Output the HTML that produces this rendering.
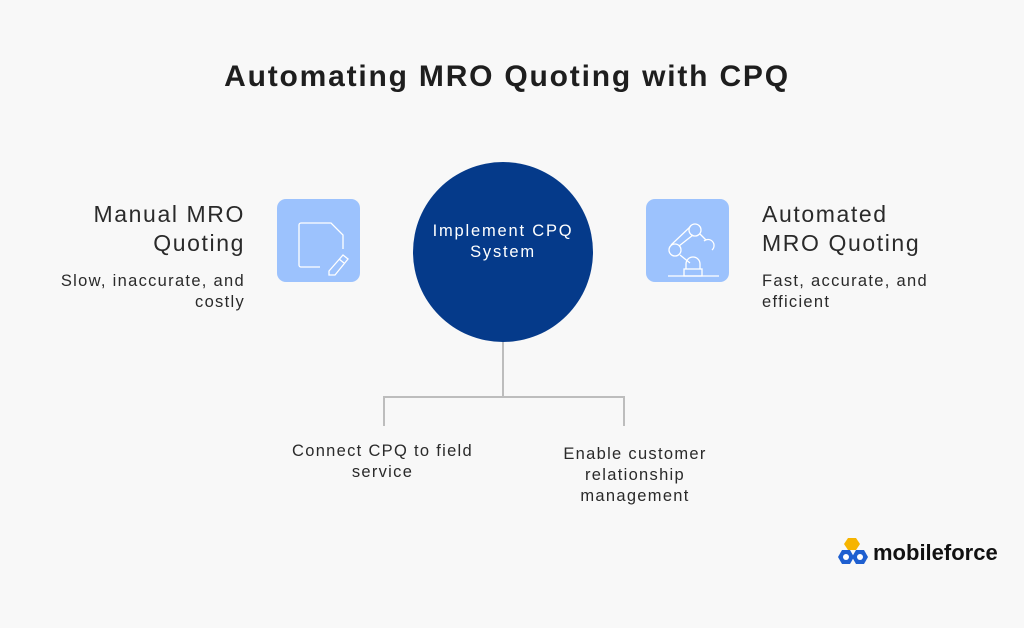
<!DOCTYPE html>
<html><head><style>
body{margin:0;width:1024px;height:628px;background:#f8f8f8;position:relative;overflow:hidden;font-family:"Liberation Sans",sans-serif;color:#2a2a2a}
.a{position:absolute}
h1{position:absolute;left:0;width:1014px;top:60px;margin:0;text-align:center;font-size:30px;font-weight:bold;color:#1e1e1e;letter-spacing:1.8px}
.h{font-size:23px;line-height:29px;letter-spacing:1.6px}
.s{font-size:16.5px;line-height:21px;letter-spacing:1.3px}
.box{position:absolute;width:83px;height:83px;background:#9cc2fd;border-radius:9px}
</style></head><body>
<h1>Automating MRO Quoting with CPQ</h1>
<div class="a h" style="right:779px;top:200px;text-align:right">Manual MRO<br>Quoting</div>
<div class="a s" style="right:779px;top:271px;text-align:right">Slow, inaccurate, and<br>costly</div>
<div class="a h" style="left:762px;top:200px">Automated<br>MRO Quoting</div>
<div class="a s" style="left:762px;top:271px">Fast, accurate, and<br>efficient</div>
<div class="box" style="left:277px;top:199px"><svg width="83" height="83" fill="none" stroke="#fff" stroke-width="1.3"><path d="M43 68H24a2 2 0 0 1-2-2V26a2 2 0 0 1 2-2h30l12 12v14"/><path d="M52 72l14-16 5 4-13 16h-6z"/><path d="M62 60l5 4"/></svg></div>
<div class="box" style="left:646px;top:199px"><svg width="83" height="83" fill="none" stroke="#fff" stroke-width="1.3"><line x1="22" y1="77" x2="73" y2="77"/><rect x="38" y="70" width="18" height="7"/><path d="M40 70v-5a7 7 0 0 1 14 0v5"/><circle cx="29" cy="51" r="6"/><circle cx="49" cy="31" r="6"/><path d="M25 46l19-18M34 56l10 8M33 47l14-11M54 35l6 6"/><path d="M58 42a6 6 0 1 1 8 9"/></svg></div>
<div class="a" style="left:413px;top:162px;width:180px;height:180px;border-radius:50%;background:#053a8a"></div>
<div class="a s" style="left:403px;top:221px;width:200px;text-align:center;color:#fff;font-size:16.5px;letter-spacing:1.8px">Implement CPQ<br>System</div>
<div class="a" style="left:502px;top:342px;width:2px;height:55px;background:#bdbdbd"></div>
<div class="a" style="left:383px;top:396px;width:242px;height:2px;background:#bdbdbd"></div>
<div class="a" style="left:383px;top:396px;width:2px;height:30px;background:#bdbdbd"></div>
<div class="a" style="left:623px;top:396px;width:2px;height:30px;background:#bdbdbd"></div>
<div class="a s" style="left:260px;top:441px;width:245px;text-align:center">Connect CPQ to field<br>service</div>
<div class="a s" style="left:520px;top:444px;width:230px;text-align:center">Enable customer<br>relationship<br>management</div>
<svg class="a" style="left:834px;top:536px" width="40" height="36"><path d="M14 2l8 0 4 6-4 6h-8l-4-6z" fill="#f6b400"/><path d="M8 14l8 0 4 7-4 7H8l-4-7z" fill="#1e5fd0"/><path d="M22 14l8 0 4 7-4 7h-8l-4-7z" fill="#1e5fd0"/><circle cx="12" cy="21" r="3" fill="#fff"/><circle cx="26" cy="21" r="3" fill="#fff"/></svg>
<div class="a" style="left:873px;top:540px;font-size:22px;font-weight:bold;color:#111">mobileforce</div>
</body></html>
